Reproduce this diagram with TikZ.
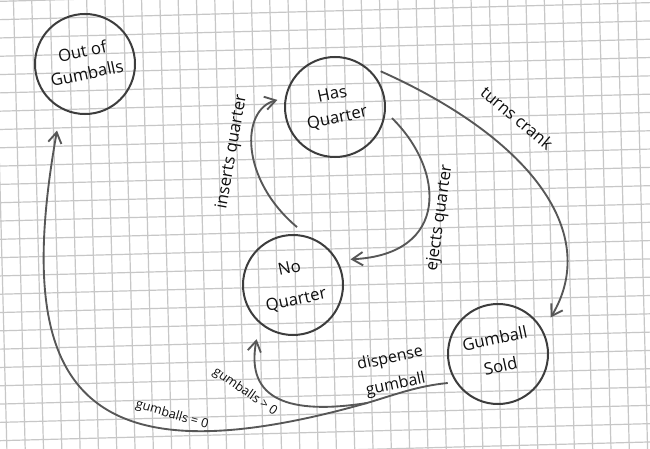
\documentclass[tikz,border=0pt]{standalone}
\usepackage{fontspec}
\setmainfont{Open Sans}
\usepackage{tikz}
\usetikzlibrary{
  arrows.meta,
  automata,
  positioning
}
\usepackage{xcolor}
\definecolor{gridGray}{rgb}{0.78,0.78,0.78}
\definecolor{circleInk}{rgb}{0.24,0.24,0.24}
\definecolor{arrowInk}{rgb}{0.34,0.34,0.34}
\definecolor{textInk}{rgb}{0.06,0.06,0.06}
\newcommand{\stateName}[3]{\rotatebox{12}{\begin{tabular}{@{}c@{}}#1\\[#3]#2\end{tabular}}}
\tikzset{
  every state/.style={
    draw=circleInk,
    line width=1.5pt,
    fill=none,
    inner sep=0pt,
    outer sep=6pt,
    minimum size=75pt,
    text=textInk,
    font=\fontsize{12.5}{16}\selectfont
  }
}
\tikzset{
  transition/.style={
    draw=arrowInk,
    line width=1.4pt,
    -{Straight Barb[length=8pt,width=10pt]}
  }
}
\tikzset{
  edgeLabel/.style={
    inner sep=0pt,
    text=textInk,
    font=\fontsize{12.5}{15}\selectfont
  }
}
\tikzset{
  smallLabel/.style={
    edgeLabel,
    font=\fontsize{9.5}{11}\selectfont
  }
}
\tikzset{
  gridLine/.style={
    draw=gridGray,
    line width=0.9pt
  }
}
\begin{document}
\begin{tikzpicture}[x=0.75pt, y=-0.75pt]
  \useasboundingbox (0,0) rectangle (650,449);
  \fill[white] (0,0) rectangle (650,449);
  % grid paper
  \begin{scope}
    \clip (0,0) rectangle (650,449);
    \begin{scope}[rotate around={1.5:(325,224)}]
      \foreach \i in {-20,...,20}
        \draw[gridLine] (312.2+18.3*\i,-40) -- (312.2+18.3*\i,490);
      \foreach \j in {-15,...,15}
        \draw[gridLine] (-40,212.5+18.3*\j) -- (690,212.5+18.3*\j);
    \end{scope}
  \end{scope}

  % states
  \node[state] (outOfGumballs) at (85,64) {\stateName{Out of}{Gumballs}{1pt}};
  \node[state] (hasQuarter) at (335,107) {\stateName{Has}{Quarter}{2pt}};
  \node[state] (noQuarter) at (293,285) {\stateName{No}{Quarter}{8pt}};
  \node[state] (gumballSold) at (498,354) {\stateName{Gumball}{Sold}{5pt}};
  \coordinate (dispenseFork) at (367,403);

  % transitions
  \draw[transition] (noQuarter.86)
    .. controls +(-57,-48) and +(-37,10) .. (hasQuarter.173);
  \draw[transition, shorten >=4pt] (hasQuarter.-11)
    .. controls +(53,52) and +(105,-5) .. (noQuarter.26);
  \draw[transition, shorten >=5pt] (hasQuarter.38)
    .. controls +(154,69) and +(53,-88) .. (gumballSold.32);
  \draw[transition, shorten >=11pt] (gumballSold.210)
    .. controls +(-30,3) and +(30,-9) .. (dispenseFork)
    .. controls +(-290,82) and +(-48,270) .. (outOfGumballs.244);
  \draw[transition, shorten >=6pt] (dispenseFork)
    .. controls +(-77,12) and +(-13,69) .. (noQuarter.233);

  % labels
  \node[edgeLabel, rotate=80] (insertsLabel) at (232,152) {inserts quarter};
  \node[edgeLabel, rotate=82] (ejectsLabel) at (440,218) {ejects quarter};
  \node[edgeLabel, rotate=-40] (crankLabel) at (517,118) {turns crank};
  \node[edgeLabel, rotate=12, align=center, font=\fontsize{12}{20}\selectfont]
    (dispenseLabel) at (393,372) {dispense\\gumball};
  \node[smallLabel, rotate=-35] (moreLabel) at (245,392) {gumballs > 0};
  \node[smallLabel, rotate=-16] (zeroLabel) at (172,415) {gumballs = 0};
\end{tikzpicture}
\end{document}
